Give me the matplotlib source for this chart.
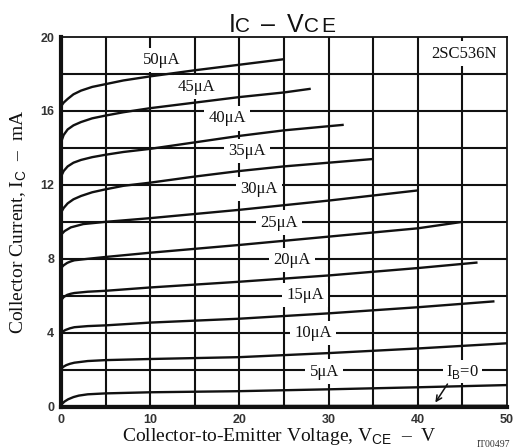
import matplotlib
matplotlib.use("Agg")
import matplotlib.pyplot as plt

plt.rcParams['mathtext.fontset'] = 'custom'
plt.rcParams['mathtext.sf'] = 'Liberation Sans'
plt.rcParams['mathtext.rm'] = 'Liberation Serif'

# I_C - V_CE curves (V, mA)
v_0 = [0, 50]
i_0 = [0.03, 0.05]
v_5 = [0, 0.4, 0.8, 1.4, 2, 3, 5, 10, 20, 30, 40, 50]
i_5 = [0.1, 0.28, 0.4, 0.52, 0.6, 0.67, 0.72, 0.78, 0.84, 0.94, 1.05, 1.17]
v_10 = [0, 0.3, 0.6, 1.0, 1.5, 3, 5, 10, 20, 30, 40, 50]
i_10 = [2.05, 2.17, 2.25, 2.32, 2.38, 2.47, 2.52, 2.58, 2.68, 2.9, 3.15, 3.43]
v_15 = [0, 0.25, 0.5, 1.0, 1.5, 3, 5, 10, 20, 30, 40, 48.6]
i_15 = [4.0, 4.08, 4.15, 4.24, 4.3, 4.36, 4.4, 4.55, 4.76, 5.05, 5.38, 5.7]
v_20 = [0, 0.3, 0.7, 1.1, 1.5, 3, 5, 10, 20, 30, 40, 46.7]
i_20 = [5.75, 5.93, 6.05, 6.11, 6.15, 6.22, 6.27, 6.45, 6.76, 7.1, 7.5, 7.8]
v_25 = [0, 0.3, 0.7, 1.1, 1.5, 3, 5, 10, 20, 30, 40, 45]
i_25 = [7.5, 7.65, 7.78, 7.86, 7.92, 8.0, 8.1, 8.33, 8.75, 9.2, 9.65, 10.0]
v_30 = [0, 0.4, 1.1, 2.5, 5, 10, 20, 30, 40]
i_30 = [9.3, 9.5, 9.7, 9.88, 10.0, 10.2, 10.65, 11.15, 11.7]
v_35 = [0, 0.3, 0.75, 1.4, 2.25, 3.5, 5, 7, 10, 15, 20, 25, 30, 35]
i_35 = [10.5, 10.75, 11.0, 11.22, 11.4, 11.6, 11.76, 11.95, 12.12, 12.45, 12.75, 13.0, 13.2, 13.4]
v_40 = [0, 0.3, 0.75, 1.4, 2.25, 3.5, 5, 7, 10, 15, 20, 25, 31.7]
i_40 = [12.45, 12.75, 13.0, 13.2, 13.35, 13.5, 13.63, 13.78, 13.95, 14.3, 14.65, 14.95, 15.25]
v_45 = [0, 0.3, 0.75, 1.4, 2.25, 3.5, 5, 7, 10, 15, 20, 25, 28]
i_45 = [14.3, 14.7, 15.0, 15.22, 15.4, 15.6, 15.75, 15.93, 16.15, 16.45, 16.75, 17.0, 17.2]
v_50 = [0, 0.3, 0.75, 1.4, 2.25, 3.5, 5, 7, 10, 15, 20, 25]
i_50 = [16.25, 16.45, 16.65, 16.9, 17.1, 17.3, 17.45, 17.65, 17.87, 18.2, 18.5, 18.8]

curves = [(v_0, i_0), (v_5, i_5), (v_10, i_10), (v_15, i_15), (v_20, i_20),
          (v_25, i_25), (v_30, i_30), (v_35, i_35), (v_40, i_40),
          (v_45, i_45), (v_50, i_50)]

ib_labels = ["5μA", "10μA", "15μA", "20μA", "25μA", "30μA",
             "35μA", "40μA", "45μA", "50μA"]
label_pos = [(29.5, 1.9), (28.3, 3.98), (27.4, 6.05), (25.9, 7.95), (24.4, 9.96),
             (22.2, 11.77), (20.9, 13.85), (18.6, 15.6), (15.2, 17.3), (11.3, 18.75)]

x_ticks = [0, 10, 20, 30, 40, 50]
y_ticks = [0, 4, 8, 12, 16, 20]
x_grid = [5, 10, 15, 20, 25, 30, 35, 40, 45]
y_grid = [2, 4, 6, 8, 10, 12, 14, 16, 18]

W, H = 515, 448
fig = plt.figure(figsize=(W / 100, H / 100), dpi=100)
ax = fig.add_axes([0.1184, 0.0922, 0.866, 0.8252])
ax.set_xlim(0, 50)
ax.set_ylim(0, 20)

ink = '#111111'
for x in x_grid:
    ax.axvline(x, color=ink, lw=1.5, zorder=1)
for y in y_grid:
    ax.axhline(y, color=ink, lw=1.5, zorder=1)

for v, i in curves:
    ax.plot(v, i, color=ink, lw=1.7, zorder=3, solid_capstyle='butt')

lbl_font = dict(family='Liberation Serif', fontsize=12, color=ink)
box = dict(facecolor='white', edgecolor='none', pad=3)
for txt, (x, y) in zip(ib_labels, label_pos):
    ax.text(x, y, txt, ha='center', va='center', zorder=2, bbox=box, **lbl_font)

ax.text(45.0, 1.9, r'I$_\mathsf{B}$=0', ha='center', va='center', zorder=2,
        bbox=dict(facecolor='white', edgecolor='none', pad=2), **lbl_font)
ax.annotate('', xy=(41.8, 0.1), xytext=(43.5, 1.35), zorder=4,
            arrowprops=dict(arrowstyle='->', color=ink, lw=1.1))
ax.text(45.2, 19.1, '2SC536N', ha='center', va='center', zorder=2,
        bbox=dict(facecolor='white', edgecolor='none', pad=3), **lbl_font)

for side in ['left', 'bottom']:
    ax.spines[side].set_linewidth(3)
for side in ['top', 'right']:
    ax.spines[side].set_linewidth(1.3)
for sp in ax.spines.values():
    sp.set_color(ink)
    sp.set_zorder(5)

ax.set_xticks(x_ticks)
ax.set_yticks(y_ticks)
ax.tick_params(length=0, pad=5, labelsize=9, labelcolor='#333333')
for t in ax.get_xticklabels() + ax.get_yticklabels():
    t.set_family('Liberation Sans')
    t.set_weight('bold')

# title "IC - VCE" with small C / CE on the same baseline, letter by letter
title_parts = [("I", 229, 18), ("C", 235, 15), ("–", 261, 18),
               ("V", 287, 18), ("C", 304, 15), ("E", 321, 15)]
for s, px, size in title_parts:
    fig.text(px / W, 1 - 32 / H, s, ha='left', va='baseline',
             family='Liberation Sans', fontsize=size, color=ink)

fig.text(0.543, 0.025, r'Collector-to-Emitter Voltage, V$_\mathsf{CE}$  –  V',
         ha='center', va='center', family='Liberation Serif', fontsize=14, color=ink)
fig.text(0.036, 0.505, r'Collector Current, I$_\mathsf{C}$  –  mA', rotation=90,
         ha='center', va='center', family='Liberation Serif', fontsize=14, color=ink)
fig.text(0.958, 0.008, 'IT00497', ha='center', va='center',
         family='Liberation Serif', fontsize=7, color='#333333')

fig.savefig('out.png', dpi=100)
